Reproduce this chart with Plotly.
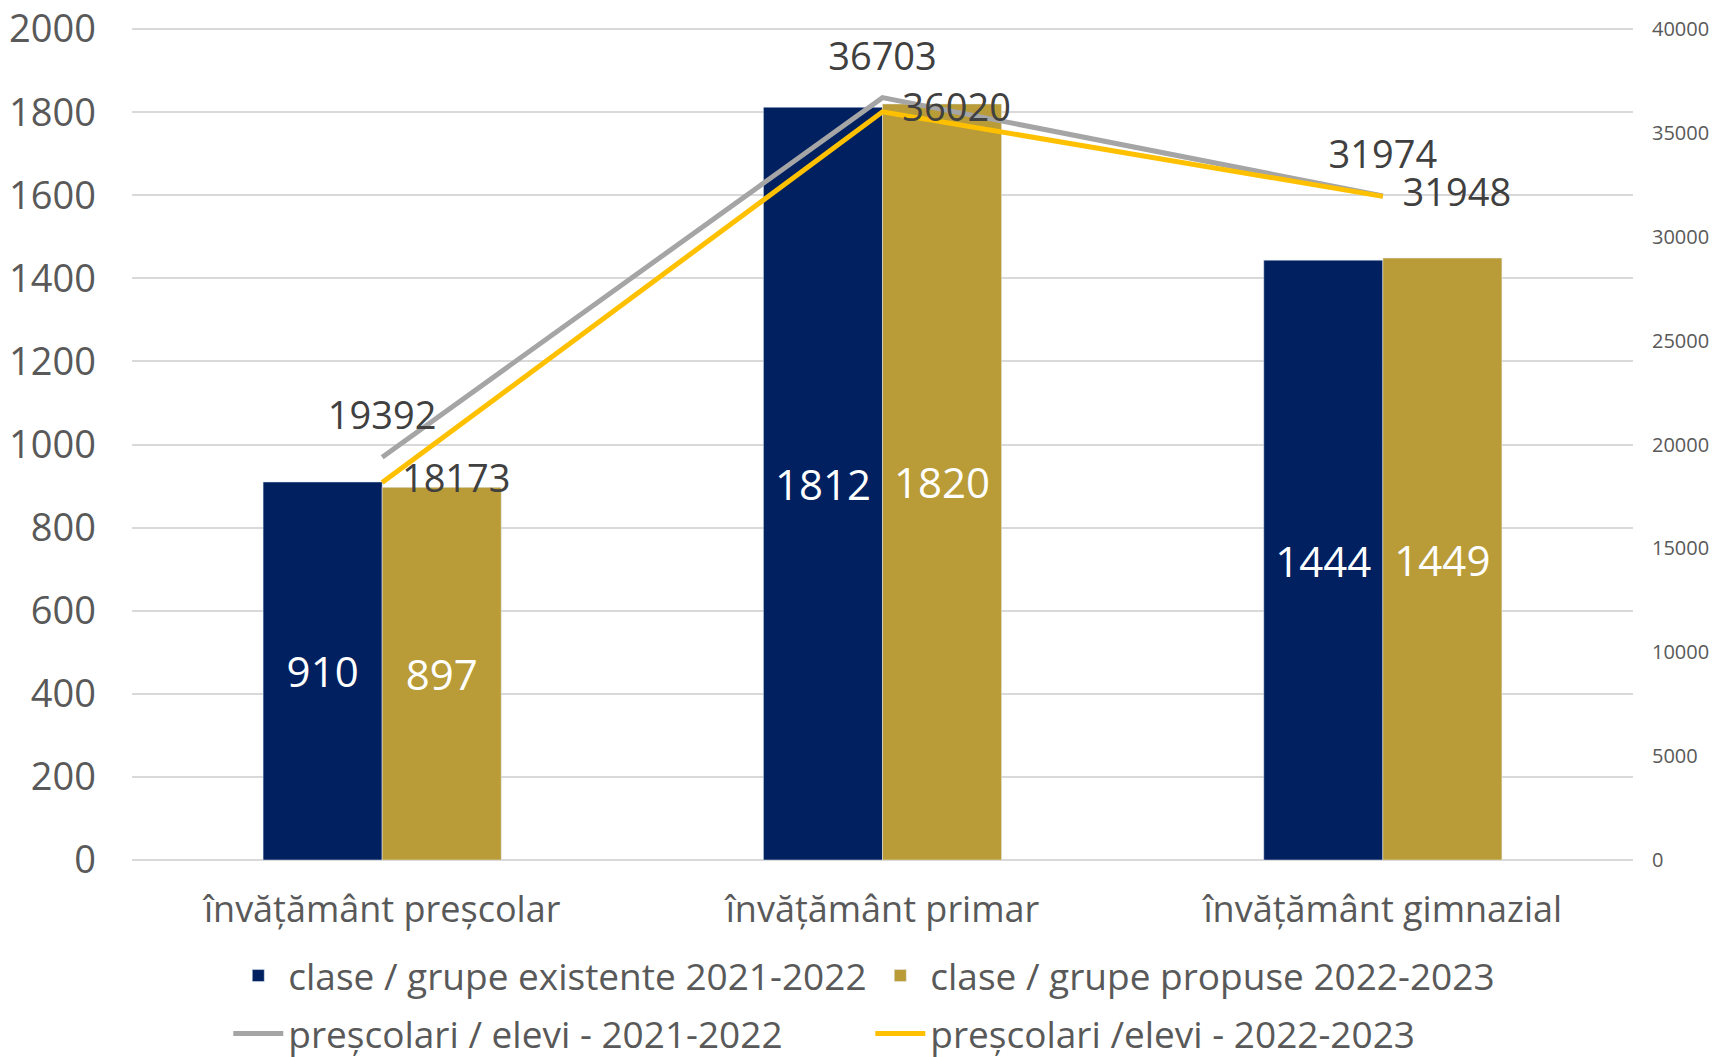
import plotly.graph_objects as go

categories = ["învățământ preșcolar", "învățământ primar", "învățământ gimnazial"]
clase_2021 = [910, 1812, 1444]
clase_2022 = [897, 1820, 1449]
elevi_2021 = [19392, 36703, 31974]
elevi_2022 = [18173, 36020, 31948]

left_ticks = list(range(0, 2001, 200))
right_ticks = list(range(0, 40001, 5000))

FONT = "Open Sans"
TICK_COLOR = "#595959"
LABEL_COLOR = "#404040"

fig = go.Figure()
fig.add_trace(go.Bar(
    x=categories, y=clase_2021, name="clase / grupe existente 2021-2022",
    marker_color="#002060", texttemplate="%{y}", textposition="inside",
    insidetextanchor="middle", textfont=dict(color="white", size=42, family=FONT),
    legend="legend",
))
fig.add_trace(go.Bar(
    x=categories, y=clase_2022, name="clase / grupe propuse 2022-2023",
    marker_color="#B99C37", texttemplate="%{y}", textposition="inside",
    insidetextanchor="middle", textfont=dict(color="white", size=42, family=FONT),
    legend="legend",
))
fig.add_trace(go.Scatter(
    x=categories, y=elevi_2021, name="preșcolari / elevi - 2021-2022",
    mode="lines+markers+text", line=dict(color="#A5A5A5", width=5),
    marker=dict(size=28, color="rgba(0,0,0,0)"),
    text=[str(v) for v in elevi_2021], textposition="top center",
    textfont=dict(color=LABEL_COLOR, size=38, family=FONT),
    yaxis="y2", legend="legend2",
))
fig.add_trace(go.Scatter(
    x=categories, y=elevi_2022, name="preșcolari /elevi - 2022-2023",
    mode="lines+text", line=dict(color="#FFC000", width=5),
    text=["  " + str(v) for v in elevi_2022], textposition="middle right",
    textfont=dict(color=LABEL_COLOR, size=38, family=FONT),
    yaxis="y2", legend="legend2",
))

legend_common = dict(orientation="h", xref="container", yref="container",
                     xanchor="left", yanchor="middle", entrywidth=577,
                     font=dict(size=37, color=TICK_COLOR),
                     bgcolor="rgba(0,0,0,0)", itemwidth=50)

fig.update_layout(
    width=1721, height=1057,
    margin=dict(l=124, r=96, t=17, b=205, autoexpand=False),
    paper_bgcolor="white", plot_bgcolor="white",
    font=dict(family=FONT, color=TICK_COLOR),
    barmode="group", bargap=0.524, bargroupgap=0,
    xaxis=dict(showgrid=False, showline=False, ticks="", automargin=False,
               tickfont=dict(size=36, color=TICK_COLOR), ticklabelstandoff=25),
    yaxis=dict(range=[0, 2010], tickvals=left_ticks, showgrid=True, automargin=False,
               gridcolor="#D9D9D9", gridwidth=1.5, zeroline=True,
               zerolinecolor="#D9D9D9", zerolinewidth=1.5, showline=False,
               ticklabeloverflow="allow",
               tickfont=dict(size=38, color=TICK_COLOR), ticklabelstandoff=35),
    yaxis2=dict(range=[0, 40200], tickvals=right_ticks, overlaying="y", automargin=False,
                side="right", showgrid=False, zeroline=False, showline=False,
                tickformat="d", ticklabeloverflow="allow",
                tickfont=dict(size=20, color=TICK_COLOR), ticklabelstandoff=18),
    legend=dict(x=0.128, y=1 - 968 / 1057, **legend_common),
    legend2=dict(x=0.128, y=1 - 1026 / 1057, **legend_common),
    showlegend=True,
)

fig.write_html("out.html")
